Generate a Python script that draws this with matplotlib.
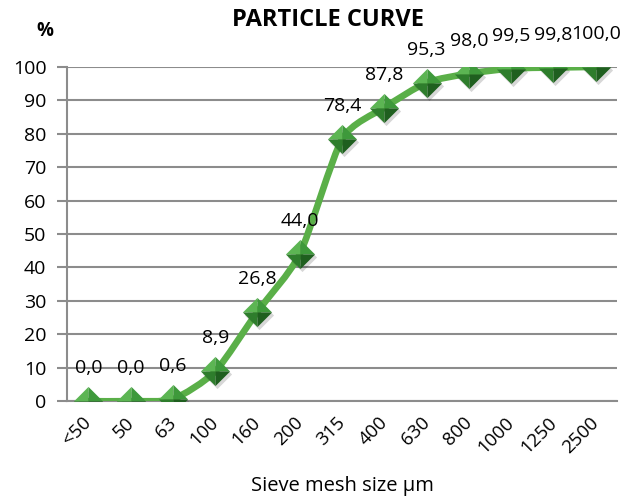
import matplotlib.pyplot as plt
import matplotlib.transforms as mtransforms
from matplotlib.path import Path
from matplotlib.patches import PathPatch

plt.rcParams['font.family'] = ['Open Sans', 'DejaVu Sans']

sizes = ['<50', '50', '63', '100', '160', '200', '315', '400', '630', '800', '1000', '1250', '2500']
passing = [0.0, 0.0, 0.6, 8.9, 26.8, 44.0, 78.4, 87.8, 95.3, 98.0, 99.5, 99.8, 100.0]
yticks = [0, 10, 20, 30, 40, 50, 60, 70, 80, 90, 100]

fig = plt.figure(figsize=(6.34, 4.99), dpi=100)
ax = fig.add_axes([0.106, 0.196, 0.867, 0.670])

x = list(range(len(sizes)))

# smoothed line (cubic bezier, soft handles)
verts = [(x[0], passing[0])]
codes = [Path.MOVETO]
n = len(x)
k = 9.0
for i in range(n - 1):
    p0 = (x[max(i - 1, 0)], passing[max(i - 1, 0)])
    p1 = (x[i], passing[i])
    p2 = (x[i + 1], passing[i + 1])
    p3 = (x[min(i + 2, n - 1)], passing[min(i + 2, n - 1)])
    c1 = (p1[0] + (p2[0] - p0[0]) / k, p1[1] + (p2[1] - p0[1]) / k)
    c2 = (p2[0] - (p3[0] - p1[0]) / k, p2[1] - (p3[1] - p1[1]) / k)
    verts += [c1, c2, p2]
    codes += [Path.CURVE4] * 3
ax.add_patch(PathPatch(Path(verts, codes), facecolor='none', edgecolor='#5aaf48',
                       lw=4.8, capstyle='round', joinstyle='round', zorder=3))

# shaded diamond markers: shadow + four facets
diamond = [(-1, 0), (0, 1), (1, 0), (0, -1)]
shadow_tr = ax.transData + mtransforms.ScaledTranslation(2 / 100, -3 / 100, fig.dpi_scale_trans)
ax.plot(x, passing, linestyle='none', marker=diamond, ms=21, color='#00000028',
        markeredgewidth=0, zorder=4, transform=shadow_tr)
facets = [([(0, 0), (-1, 0), (0, 1)], '#5cb553'),
          ([(0, 0), (0, 1), (1, 0)], '#3e993b'),
          ([(0, 0), (-1, 0), (0, -1)], '#2e7d2c'),
          ([(0, 0), (1, 0), (0, -1)], '#1f5f1f')]
for fv, col in facets:
    ax.plot(x, passing, linestyle='none', marker=fv, ms=21, color=col,
            markeredgewidth=0, zorder=5)

for xi, v in zip(x, passing):
    ax.annotate(('%.1f' % v).replace('.', ','), (xi, v), xytext=(0, 33),
                textcoords='offset pixels', ha='center', va='center', fontsize=14,
                zorder=6)

ax.set_xlim(-0.5, len(sizes) - 0.5)
ax.set_ylim(0, 100)
ax.set_yticks(yticks)
ax.set_xticks(x)
ax.set_xticklabels(sizes, rotation=45, ha='right', va='top', rotation_mode='anchor')
ax.tick_params(axis='y', labelsize=14, length=7, color='#8c8c8c', width=1.5, pad=8)
ax.tick_params(axis='x', labelsize=13.5, length=0, pad=9)
for lab in ax.get_xticklabels():
    lab.set_transform(lab.get_transform() +
                      mtransforms.ScaledTranslation(-6 / 100, 0, fig.dpi_scale_trans))

ax.grid(axis='y', color='#8c8c8c', lw=1.5)
ax.set_axisbelow(True)
for s in ['top', 'right']:
    ax.spines[s].set_visible(False)
ax.spines['left'].set_color('#8c8c8c')
ax.spines['left'].set_linewidth(1.5)
ax.spines['bottom'].set_color('#8c8c8c')
ax.spines['bottom'].set_linewidth(1.5)

ax.set_xlabel('Sieve mesh size µm', fontsize=14.5, labelpad=14)
fig.text(0.517, 0.960, 'PARTICLE CURVE', ha='center', va='center', fontsize=17, fontweight='bold')
fig.text(0.071, 0.938, '%', ha='center', va='center', fontsize=13.5, fontweight='bold')

fig.savefig('out.png', dpi=100)
